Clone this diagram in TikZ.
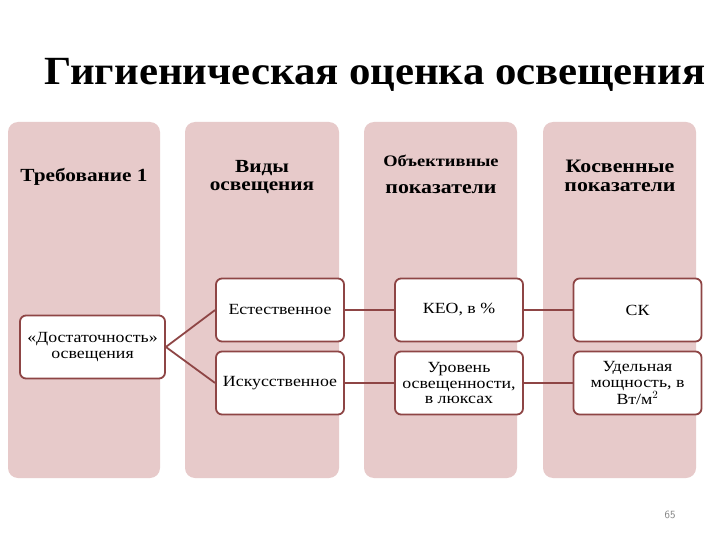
\documentclass[tikz,border=0pt]{standalone}
\usepackage{fontspec}
\setmainfont{Liberation Serif}
\newfontfamily\wfont{Liberation Serif}[FakeStretch=1.15]
\begin{document}
\begin{tikzpicture}[x=1pt,y=-1pt,
  col/.style={fill=colpink,draw=none,rounded corners=10pt},
  wbox/.style={fill=white,draw=lineRed,line width=1.8pt,rounded corners=6pt,
    minimum width=128pt,minimum height=63pt,align=center,inner sep=2pt,
    font=\wfont\fontsize{15.5}{15.5}\selectfont},
  hdr/.style={align=center,font=\wfont\fontsize{18.5}{18}\bfseries\selectfont},
  conn/.style={draw=lineRed,line width=1.8pt}]
\definecolor{colpink}{HTML}{E7CACA}
\definecolor{lineRed}{HTML}{8E4545}
\useasboundingbox (0,0) rectangle (720,540);
\fill[white] (0,0) rectangle (720,540);
% title
\node[anchor=base,font=\fontsize{40}{42}\bfseries\selectfont] (title) at (375,85) {\scalebox{1.07}[1]{Гигиеническая оценка освещения}};
% columns
\fill[col] (8,122) rectangle (160,478);
\fill[col] (185,122) rectangle (339,478);
\fill[col] (364,122) rectangle (517,478);
\fill[col] (543,122) rectangle (696,478);
% headers
\node[hdr] (h1) at (84,177) {Требование 1};
\node[hdr] (h2) at (262,177) {Виды\\освещения};
\node[hdr,font=\wfont\fontsize{16}{18}\bfseries\selectfont] (h3a) at (441,161) {Объективные};
\node[hdr,font=\wfont\fontsize{19}{20}\bfseries\selectfont] (h3b) at (441,189) {показатели};
\node[hdr,font=\wfont\fontsize{19}{19}\bfseries\selectfont] (h4) at (620,176) {Косвенные\\показатели};
% boxes
\node[wbox,minimum width=145pt] (dost) at (92.5,347) {«Достаточность»\\освещения};
\node[wbox] (est) at (280,310) {Естественное};
\node[wbox] (isk) at (280,383) {Искусственное};
\node[wbox] (keo) at (459,310) {КЕО, в \%};
\node[wbox] (ur) at (459,383) {Уровень\\освещенности,\\в люксах};
\node[wbox] (sk) at (637.5,310) {СК};
\node[wbox] (ud) at (637.5,383) {Удельная\\мощность, в\\Вт/м$^2$};
% connectors
\draw[conn] (dost.east) -- (est.west);
\draw[conn] (dost.east) -- (isk.west);
\draw[conn] (est.east) -- (keo.west);
\draw[conn] (keo.east) -- (sk.west);
\draw[conn] (isk.east) -- (ur.west);
\draw[conn] (ur.east) -- (ud.west);
% page number
\node[font=\fontsize{11}{12}\sffamily\selectfont,text=gray] (pn) at (670,515) {65};
\end{tikzpicture}
\end{document}
